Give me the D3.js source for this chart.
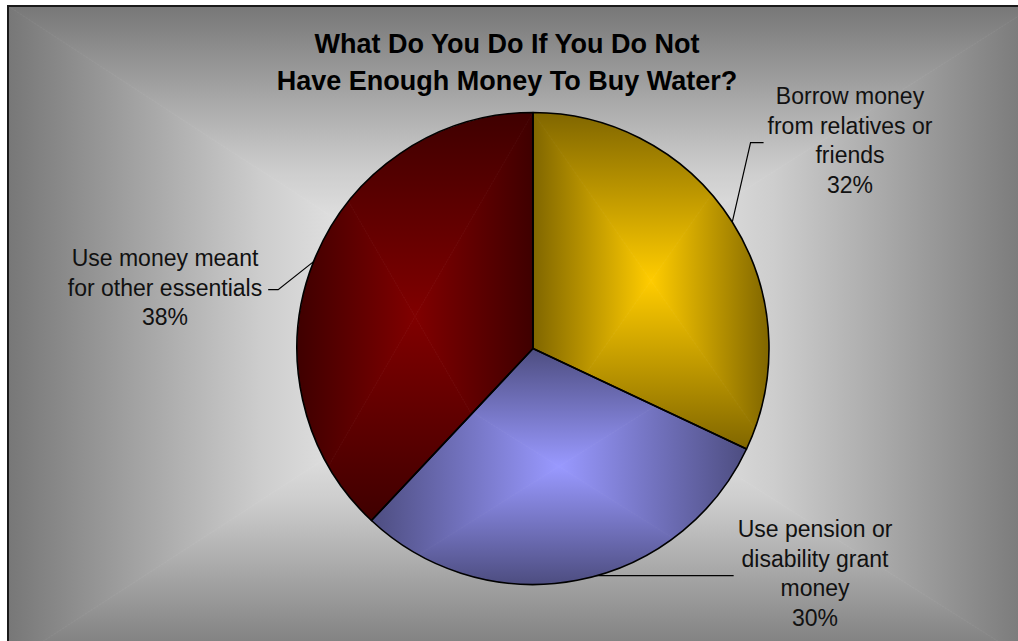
<!DOCTYPE html>
<html>
<head>
<meta charset="utf-8">
<script src="https://cdn.jsdelivr.net/npm/d3@7"></script>
<style>
  html, body { margin: 0; padding: 0; background: #ffffff; overflow: hidden; }
  svg { display: block; }
  text { font-family: "Liberation Sans", Arial, sans-serif; }
</style>
</head>
<body>
<svg id="chart" width="1018" height="641"></svg>
<script>
// ---- data ----
const categories = [
  "Borrow money from relatives or friends",
  "Use pension or disability grant money",
  "Use money meant for other essentials"
];
const values = [32, 30, 38];
const labelLines = [
  ["Borrow money", "from relatives or", "friends"],
  ["Use pension or", "disability grant", "money"],
  ["Use money meant", "for other essentials"]
];
const titleLines = ["What Do You Do If You Do Not", "Have Enough Money To Buy Water?"];

// ---- styling / layout ----
const centerColors = ["#ffcc00", "#9999ff", "#800000"];
const edgeColors   = ["#806600", "#4d4d80", "#3f0000"];
const W = 1018, H = 641;
const frame = { x: 8, y: 6, w: 1026, h: 658, cx: 515, cy: 336 };
const pieCenter = { x: 533, y: 348.5 };
const R = 236;
const labelLayout = [
  { x: 850, y: 104, side: "right" },
  { x: 815, y: 537, side: "right" },
  { x: 165, y: 266, side: "left" }
];
const lineH = 29.7;

const svg = d3.select("#chart");
const defs = svg.append("defs");

// Rectangular "from centre" gradient: four triangles, each with a linear ramp
// from the box edge toward the centre point.
function rectGradient(parent, id, box, cx, cy, stops) {
  const x0 = box.x, y0 = box.y, x1 = box.x + box.w, y1 = box.y + box.h;
  const parts = [
    { key: "t", pts: [[x0, y0], [x1, y0], [cx, cy]], g: [0, y0, 0, cy] },
    { key: "b", pts: [[x0, y1], [x1, y1], [cx, cy]], g: [0, y1, 0, cy] },
    { key: "l", pts: [[x0, y0], [x0, y1], [cx, cy]], g: [x0, 0, cx, 0] },
    { key: "r", pts: [[x1, y0], [x1, y1], [cx, cy]], g: [x1, 0, cx, 0] }
  ];
  parts.forEach(p => {
    const gid = id + "-" + p.key;
    const lg = defs.append("linearGradient")
      .attr("id", gid)
      .attr("gradientUnits", "userSpaceOnUse")
      .attr("x1", p.g[0]).attr("y1", p.g[1])
      .attr("x2", p.g[2]).attr("y2", p.g[3]);
    stops.forEach(s => lg.append("stop").attr("offset", s[0]).attr("stop-color", s[1]));
    parent.append("polygon")
      .attr("points", p.pts.map(d => d.join(",")).join(" "))
      .attr("fill", `url(#${gid})`)
      .attr("stroke", `url(#${gid})`)
      .attr("stroke-width", 0.8);
  });
}

// ---- chart area background ----
const bg = svg.append("g");
rectGradient(bg, "bg", frame, frame.cx, frame.cy,
  [[0, "#777777"], [0.5, "#cdcdcd"], [0.8, "#f2f2f2"], [1, "#ffffff"]]);
// chart-area border: only the top and left edges fall on the page
bg.append("path")
  .attr("d", `M${frame.x},${frame.y + frame.h + 20}V${frame.y}H${frame.x + frame.w + 20}`)
  .attr("fill", "none").attr("stroke", "#1a1a1a").attr("stroke-width", 2);

// ---- title ----
const title = svg.append("text")
  .attr("text-anchor", "middle")
  .attr("font-size", 27).attr("font-weight", "bold").attr("fill", "#000");
titleLines.forEach((t, i) => {
  title.append("tspan").attr("x", 507).attr("y", 53 + i * 37).text(t);
});

// ---- pie ----
const total = d3.sum(values);
const pie = d3.pie().sort(null).value(d => d)(values);
const arc = d3.arc().innerRadius(0).outerRadius(R);
const pct = d3.format(".0%");

// leader lines are hidden wherever they fall inside the pie
const mask = defs.append("mask").attr("id", "outside-pie")
  .attr("maskUnits", "userSpaceOnUse")
  .attr("x", -W).attr("y", -H).attr("width", 3 * W).attr("height", 3 * H);
mask.append("rect").attr("x", -W).attr("y", -H).attr("width", 3 * W).attr("height", 3 * H).attr("fill", "#fff");
mask.append("circle").attr("cx", 0).attr("cy", 0).attr("r", R).attr("fill", "#000");

const plot = svg.append("g").attr("transform", `translate(${pieCenter.x},${pieCenter.y})`);
const leaders = plot.append("g").attr("mask", "url(#outside-pie)");
const labels = svg.append("g");

pie.forEach((d, i) => {
  const L = labelLayout[i];
  const lines = labelLines[i].concat([pct(values[i] / total)]);
  const t = labels.append("text")
    .attr("text-anchor", "middle")
    .attr("font-size", 23).attr("fill", "#111");
  lines.forEach((s, k) => t.append("tspan").attr("x", L.x).attr("y", L.y + k * lineH).text(s));
  const bb = t.node().getBBox();
  const midY = L.y + (lines.length - 1) * lineH / 2 - 6;

  // leader: from the slice edge at its mid-angle to the label block
  const a = (d.startAngle + d.endAngle) / 2;
  let sx = R * Math.sin(a), sy = -R * Math.cos(a);
  const endX = (L.side === "right" ? bb.x - 4 : bb.x + bb.width + 6) - pieCenter.x;
  const elbowX = endX + (L.side === "right" ? -13 : 10);
  const ey = midY - pieCenter.y;
  let pts = [[sx, sy], [elbowX, ey], [endX, ey]];
  if (Math.abs(sy - ey) < 12 && Math.abs(ey) < R) {
    // label sits level with the slice edge: run a straight horizontal leader
    sx = Math.sign(endX) * Math.sqrt(R * R - ey * ey) - Math.sign(endX) * 3;
    pts = [[sx, ey], [endX, ey]];
  }
  leaders.append("polyline")
    .attr("points", pts.map(p => p.join(",")).join(" "))
    .attr("fill", "none").attr("stroke", "#000").attr("stroke-width", 1.2);
});

// slice fills: rectangular gradient over each slice's bounding box
pie.forEach((d, i) => {
  const path = arc(d);
  const probe = plot.append("path").attr("d", path).attr("fill", "none");
  const bb = probe.node().getBBox();
  probe.remove();
  defs.append("clipPath").attr("id", "slice-clip-" + i)
    .append("path").attr("d", path)
    .attr("transform", `translate(${pieCenter.x},${pieCenter.y})`);
  const fillG = svg.append("g").attr("clip-path", `url(#slice-clip-${i})`);
  const box = { x: bb.x + pieCenter.x, y: bb.y + pieCenter.y, w: bb.width, h: bb.height };
  rectGradient(fillG, "slice" + i, box, box.x + box.w / 2, box.y + box.h / 2,
    [[0, edgeColors[i]], [1, centerColors[i]]]);
});

// slice outlines
const outlines = svg.append("g").attr("transform", `translate(${pieCenter.x},${pieCenter.y})`);
pie.forEach(d => {
  outlines.append("path").attr("d", arc(d))
    .attr("fill", "none").attr("stroke", "#000").attr("stroke-width", 1.6)
    .attr("stroke-linejoin", "round");
});
labels.raise();
</script>
</body>
</html>
